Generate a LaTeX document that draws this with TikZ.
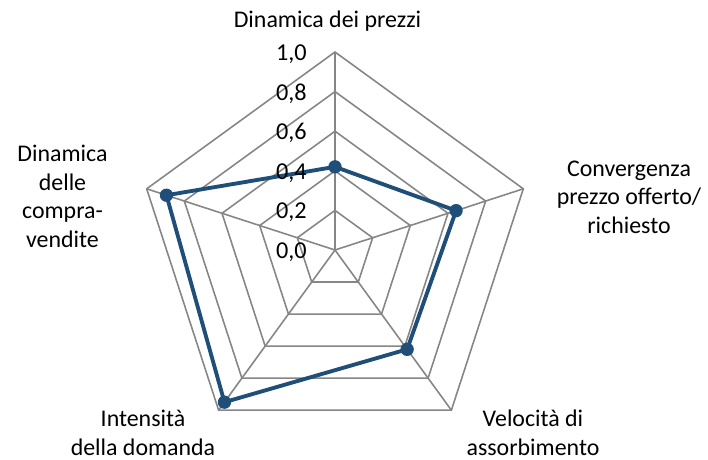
\documentclass[tikz,border=0pt]{standalone}
\usepackage{fontspec}
\setmainfont{Carlito}
\definecolor{gridgray}{HTML}{868686}
\definecolor{seriesblue}{HTML}{1F4E79}
\begin{document}
\begin{tikzpicture}[x=0.02cm,y=-0.02cm,
  grid/.style={draw=gridgray, line width=0.9pt},
  valaxis/.style={draw=gridgray, line width=1.5pt},
  series/.style={draw=seriesblue, line width=2.2pt, line join=round},
  marker/.style={circle, fill=seriesblue, inner sep=0pt, minimum size=7.6pt},
  lab/.style={font=\fontsize{13.6}{16.2}\selectfont, align=center, inner sep=0pt, anchor=base},
  ticklab/.style={font=\fontsize{13.8}{16.3}\selectfont, inner sep=0pt, anchor=base east}]
\useasboundingbox (0,0) rectangle (708,460);
\begin{scope}[shift={(335,250)}, yscale=-1]
  \foreach \k in {0.2,0.4,0.6,0.8,1.0}
    \draw[grid] (90:{198*\k}) -- (18:{198*\k}) -- (-54:{198*\k}) -- (-126:{198*\k}) -- (162:{198*\k}) -- cycle;
  \coordinate (c) at (0,0);
  \foreach \a/\n in {18/v1,-54/v2,-126/v3,162/v4} {
    \coordinate (\n) at (\a:198);
    \draw[grid] (c) -- (\n);
  }
  \coordinate (v0) at (90:198);
  \draw[valaxis] (c) -- (v0);
  \coordinate (d0) at (90:{0.42*198});
  \coordinate (d1) at (18:{0.643*198});
  \coordinate (d2) at (-54:{0.62*198});
  \coordinate (d3) at (-126:{0.95*198});
  \coordinate (d4) at (162:{0.895*198});
  \draw[series] (d0) -- (d1) -- (d2) -- (d3) -- (d4) -- cycle;
  \foreach \i in {0,...,4} \node[marker] (m\i) at (d\i) {};
\end{scope}
\foreach \k/\t in {0/0,1/2,2/4,3/6,4/8}
  \node[ticklab] (t\k) at (307,{250-39.6*\k+8.5}) {0,\t};
\node[ticklab] (t5) at (307,{52+8.5}) {1,0};
% base anchor of a multi-line node = baseline of its last line
\node[lab] (l0) at (327.5,27.3) {Dinamica dei prezzi};
\node[lab] (l1) at (629,233) {Convergenza\\prezzo offerto/\\richiesto};
\node[lab] (l2) at (533,455) {Velocità di\\assorbimento};
\node[lab] (l3) at (143,455) {Intensità\\della domanda};
\node[lab] (l4) at (62.5,247) {Dinamica\\delle\\compra-\\vendite};
\end{tikzpicture}
\end{document}
